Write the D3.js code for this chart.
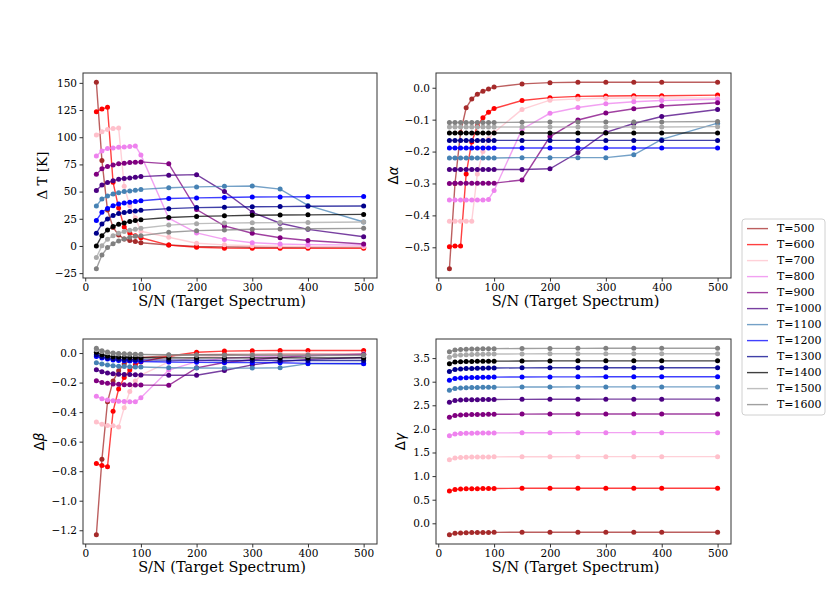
<!DOCTYPE html>
<html>
<head>
<meta charset="utf-8">
<script src="https://cdn.jsdelivr.net/npm/d3@7"></script>
<style>
  html, body { margin: 0; padding: 0; background: #fff; }
  svg { display: block; }
  text { font-family: "DejaVu Serif", serif; fill: #000; }
</style>
</head>
<body>
<svg id="chart" width="830" height="612"></svg>
<script>
// ---------- data ----------
const snr = [20, 30, 40, 50, 60, 70, 80, 90, 100, 150, 200, 250, 300, 350, 400, 500];
const temps = [500, 600, 700, 800, 900, 1000, 1100, 1200, 1300, 1400, 1500, 1600];
const xTicks = [0, 100, 200, 300, 400, 500];

const deltaT = [
  [150.5, 78.5, 33, 17, 10, 6.5, 5, 4, 3, 0.9, -0.5, -1, -1.2, -1.3, -1.3, -1.3],
  [123.5, 126, 127.5, 58.5, 35, 17.5, 12, 9.5, 7.5, 0.8, -1.2, -2, -2.2, -2.2, -2.2, -2.2],
  [102, 105, 107.2, 108, 108.5, 55, 37, 26, 13.5, 8, 2.5, 1, 0.2, -0.3, -0.5, -0.8],
  [82.8, 87.4, 89.6, 90.2, 90.8, 91.1, 91.4, 92, 83.7, 25.5, 12, 6, 3, 1.8, 1.2, 0.8],
  [66, 70.9, 73, 74.5, 75.5, 76, 76.7, 77, 77.3, 75.5, 33.5, 18.4, 11.7, 7.5, 5, 1.8],
  [51, 56, 58.3, 60, 61.3, 62, 62.6, 63.2, 63.8, 65, 65.6, 50, 31, 20.9, 15.3, 8.5],
  [36.8, 43.3, 46, 47.9, 49, 50, 50.6, 51.2, 52, 53.5, 54.3, 54.8, 55.1, 52.3, 37.3, 22],
  [23.5, 31, 34.5, 37, 38.5, 39.5, 40.3, 41, 41.6, 43.6, 44.2, 44.6, 45, 45.1, 45.3, 45.4],
  [11.7, 20.3, 24.9, 28, 29.8, 30.7, 31.6, 32.2, 32.9, 34.3, 35.3, 35.6, 36, 36.2, 36.5, 36.8],
  [0, 9.5, 14.7, 17.8, 20, 21.2, 22.4, 23.3, 24.2, 26.2, 27.2, 27.7, 28.2, 28.5, 28.6, 29],
  [-10.7, 0.3, 6.1, 9.5, 11.7, 13.2, 14.4, 15.4, 16.3, 19.2, 20.5, 21, 21.3, 21.5, 21.6, 22],
  [-20.9, -8.3, -1.5, 2.1, 4.6, 6.4, 8, 8.9, 9.5, 12.6, 14.1, 14.7, 15.3, 15.6, 15.8, 16.2]
];

const deltaAlpha = [
  [-0.567, -0.3, -0.14, -0.063, -0.035, -0.02, -0.011, -0.004, 0.002, 0.012, 0.016, 0.017, 0.017, 0.017, 0.017, 0.017],
  [-0.498, -0.496, -0.496, -0.27, -0.17, -0.12, -0.094, -0.077, -0.065, -0.04, -0.031, -0.027, -0.026, -0.025, -0.025, -0.023],
  [-0.418, -0.418, -0.418, -0.418, -0.418, -0.27, -0.2, -0.16, -0.14, -0.068, -0.039, -0.035, -0.033, -0.032, -0.032, -0.032],
  [-0.352, -0.352, -0.352, -0.352, -0.352, -0.352, -0.352, -0.35, -0.322, -0.13, -0.08, -0.062, -0.05, -0.044, -0.04, -0.036],
  [-0.3, -0.299, -0.299, -0.299, -0.299, -0.299, -0.299, -0.299, -0.299, -0.289, -0.153, -0.101, -0.079, -0.066, -0.057, -0.047],
  [-0.256, -0.256, -0.256, -0.256, -0.256, -0.256, -0.256, -0.256, -0.256, -0.256, -0.254, -0.203, -0.14, -0.112, -0.09, -0.068],
  [-0.22, -0.22, -0.22, -0.22, -0.22, -0.22, -0.22, -0.22, -0.22, -0.219, -0.219, -0.219, -0.219, -0.21, -0.162, -0.111],
  [-0.189, -0.189, -0.189, -0.189, -0.189, -0.189, -0.189, -0.189, -0.189, -0.189, -0.189, -0.189, -0.189, -0.189, -0.189, -0.189],
  [-0.165, -0.165, -0.165, -0.165, -0.165, -0.165, -0.165, -0.165, -0.165, -0.165, -0.165, -0.165, -0.165, -0.165, -0.165, -0.165],
  [-0.142, -0.142, -0.142, -0.142, -0.142, -0.142, -0.142, -0.142, -0.142, -0.142, -0.142, -0.142, -0.142, -0.142, -0.142, -0.142],
  [-0.123, -0.123, -0.123, -0.123, -0.123, -0.123, -0.123, -0.123, -0.123, -0.123, -0.123, -0.123, -0.123, -0.123, -0.123, -0.122],
  [-0.109, -0.109, -0.109, -0.109, -0.109, -0.109, -0.109, -0.109, -0.109, -0.108, -0.107, -0.107, -0.107, -0.107, -0.107, -0.106]
];

const deltaBeta = [
  [-1.23, -0.72, -0.33, -0.19, -0.12, -0.075, -0.05, -0.038, -0.03, -0.018, -0.012, -0.01, -0.009, -0.008, -0.008, -0.008],
  [-0.748, -0.762, -0.77, -0.395, -0.244, -0.165, -0.115, -0.08, -0.06, -0.022, 0.005, 0.013, 0.016, 0.017, 0.017, 0.017],
  [-0.467, -0.483, -0.49, -0.493, -0.5, -0.37, -0.26, -0.19, -0.15, -0.06, -0.03, -0.018, -0.012, -0.009, -0.007, -0.005],
  [-0.293, -0.31, -0.318, -0.323, -0.326, -0.328, -0.329, -0.33, -0.303, -0.115, -0.058, -0.036, -0.025, -0.02, -0.016, -0.011],
  [-0.187, -0.199, -0.205, -0.209, -0.212, -0.214, -0.215, -0.217, -0.217, -0.218, -0.1, -0.064, -0.045, -0.03, -0.018, -0.008],
  [-0.113, -0.126, -0.135, -0.14, -0.143, -0.145, -0.146, -0.147, -0.148, -0.15, -0.15, -0.118, -0.08, -0.058, -0.043, -0.03],
  [-0.065, -0.074, -0.081, -0.086, -0.089, -0.091, -0.093, -0.094, -0.095, -0.1, -0.101, -0.102, -0.102, -0.1, -0.072, -0.071],
  [-0.023, -0.034, -0.041, -0.047, -0.05, -0.052, -0.054, -0.056, -0.057, -0.061, -0.063, -0.064, -0.065, -0.066, -0.07, -0.072],
  [-0.011, -0.025, -0.033, -0.038, -0.041, -0.043, -0.044, -0.045, -0.046, -0.048, -0.049, -0.05, -0.05, -0.05, -0.05, -0.05],
  [0.005, -0.011, -0.02, -0.025, -0.027, -0.029, -0.03, -0.031, -0.032, -0.033, -0.033, -0.033, -0.033, -0.033, -0.033, -0.033],
  [0.022, 0.01, 0.002, -0.003, -0.006, -0.008, -0.009, -0.01, -0.011, -0.013, -0.015, -0.016, -0.016, -0.017, -0.017, -0.017],
  [0.032, 0.016, 0.007, 0.0, -0.003, -0.005, -0.007, -0.008, -0.009, -0.011, -0.012, -0.013, -0.013, -0.014, -0.014, -0.014]
];

const deltaGamma = [
  [-0.241, -0.213, -0.205, -0.2, -0.197, -0.195, -0.194, -0.193, -0.192, -0.19, -0.19, -0.19, -0.19, -0.19, -0.19, -0.19],
  [0.687, 0.716, 0.725, 0.73, 0.732, 0.734, 0.735, 0.736, 0.737, 0.742, 0.743, 0.744, 0.744, 0.744, 0.744, 0.744],
  [1.347, 1.382, 1.393, 1.4, 1.403, 1.405, 1.406, 1.407, 1.408, 1.41, 1.411, 1.412, 1.412, 1.412, 1.412, 1.412],
  [1.857, 1.892, 1.902, 1.907, 1.91, 1.912, 1.913, 1.914, 1.915, 1.918, 1.919, 1.92, 1.92, 1.92, 1.92, 1.92],
  [2.247, 2.282, 2.293, 2.3, 2.303, 2.305, 2.307, 2.308, 2.309, 2.313, 2.315, 2.316, 2.317, 2.317, 2.317, 2.317],
  [2.566, 2.6, 2.61, 2.615, 2.618, 2.62, 2.621, 2.622, 2.623, 2.626, 2.628, 2.629, 2.63, 2.63, 2.63, 2.63],
  [2.82, 2.856, 2.866, 2.872, 2.876, 2.878, 2.88, 2.882, 2.884, 2.887, 2.889, 2.89, 2.89, 2.89, 2.89, 2.89],
  [3.033, 3.069, 3.08, 3.086, 3.089, 3.091, 3.093, 3.095, 3.097, 3.1, 3.102, 3.103, 3.104, 3.104, 3.104, 3.104],
  [3.218, 3.26, 3.271, 3.277, 3.281, 3.284, 3.286, 3.288, 3.29, 3.293, 3.295, 3.296, 3.296, 3.296, 3.296, 3.296],
  [3.38, 3.416, 3.424, 3.428, 3.43, 3.432, 3.433, 3.434, 3.435, 3.438, 3.44, 3.441, 3.442, 3.442, 3.442, 3.442],
  [3.52, 3.555, 3.567, 3.573, 3.577, 3.58, 3.582, 3.584, 3.586, 3.589, 3.591, 3.592, 3.593, 3.593, 3.593, 3.593],
  [3.636, 3.67, 3.682, 3.688, 3.692, 3.695, 3.697, 3.698, 3.7, 3.703, 3.705, 3.706, 3.707, 3.707, 3.707, 3.707]
];

const yTicksT = [-25, 0, 25, 50, 75, 100, 125, 150];
const yTicksAlpha = [-0.5, -0.4, -0.3, -0.2, -0.1, 0.0];
const yTicksBeta = [-1.2, -1.0, -0.8, -0.6, -0.4, -0.2, 0.0];
const yTicksGamma = [0.0, 0.5, 1.0, 1.5, 2.0, 2.5, 3.0, 3.5];

// ---------- styles ----------
const colors = ["#a52a2a", "#ff0000", "#ffc0cb", "#ee82ee", "#800080", "#4b0082",
                "#4682b4", "#0000ff", "#00008b", "#000000", "#a9a9a9", "#808080"];

const svg = d3.select("#chart");
svg.append("rect").attr("width", 830).attr("height", 612).attr("fill", "#fff");

const panels = [
  { data: deltaT, ticks: yTicksT, fmt: d3.format("d"), box: [83, 377, 73, 278], ylab: "T", ylabX: 47 },
  { data: deltaAlpha, ticks: yTicksAlpha, fmt: d3.format(".1f"), box: [436, 731, 73, 278], ylab: "α", ylabX: 398 },
  { data: deltaBeta, ticks: yTicksBeta, fmt: d3.format(".1f"), box: [83, 377, 339, 544], ylab: "β", ylabX: 44 },
  { data: deltaGamma, ticks: yTicksGamma, fmt: d3.format(".1f"), box: [436, 731, 339, 544], ylab: "γ", ylabX: 405 }
];

const xExt = d3.extent(snr);
const xPad = (xExt[1] - xExt[0]) * 0.05;

panels.forEach(p => {
  const [x0, x1, y0, y1] = p.box;
  const flat = p.data.flat();
  const yExt = d3.extent(flat);
  const yPad = (yExt[1] - yExt[0]) * 0.05;
  const x = d3.scaleLinear().domain([xExt[0] - xPad, xExt[1] + xPad]).range([x0, x1]);
  const y = d3.scaleLinear().domain([yExt[0] - yPad, yExt[1] + yPad]).range([y1, y0]);

  const g = svg.append("g");

  // series
  const line = d3.line().x((d, i) => x(snr[i])).y(d => y(d));
  p.data.forEach((series, si) => {
    const sg = g.append("g");
    sg.append("path")
      .attr("d", line(series))
      .attr("fill", "none")
      .attr("stroke", colors[si])
      .attr("stroke-width", 1.4)
      .attr("stroke-opacity", 0.75);
    sg.selectAll("circle").data(series).join("circle")
      .attr("cx", (d, i) => x(snr[i]))
      .attr("cy", d => y(d))
      .attr("r", 2.5)
      .attr("fill", colors[si]);
  });

  // frame
  g.append("rect")
    .attr("x", x0).attr("y", y0)
    .attr("width", x1 - x0).attr("height", y1 - y0)
    .attr("fill", "none").attr("stroke", "#333").attr("stroke-width", 1);

  // axes
  const xa = g.append("g").attr("transform", `translate(0,${y1})`)
    .call(d3.axisBottom(x).tickValues(xTicks).tickSize(3.5).tickPadding(2).tickFormat(d3.format("d")));
  const ya = g.append("g").attr("transform", `translate(${x0},0)`)
    .call(d3.axisLeft(y).tickValues(p.ticks).tickSize(3.5).tickPadding(2.5).tickFormat(p.fmt));
  [xa, ya].forEach(a => {
    a.select(".domain").remove();
    a.selectAll(".tick line").attr("stroke", "#333");
    a.selectAll(".tick text").attr("font-family", "DejaVu Serif").attr("font-size", 10.5).attr("fill", "#000");
  });

  // x label
  g.append("text")
    .attr("x", (x0 + x1) / 2 - 8).attr("y", y1 + 28)
    .attr("text-anchor", "middle")
    .attr("font-size", 14.5)
    .text("S/N (Target Spectrum)");

  // y label
  const yl = g.append("text")
    .attr("transform", `translate(${p.ylabX},${(y0 + y1) / 2}) rotate(-90)`)
    .attr("text-anchor", "middle")
    .attr("font-size", 13.5);
  if (p.ylab === "T") {
    yl.text("Δ T [K]");
  } else {
    yl.append("tspan").attr("font-family", "DejaVu Sans").text("Δ");
    yl.append("tspan").attr("font-family", "DejaVu Sans").attr("font-style", "italic").text(p.ylab);
  }
});

// legend
const lg = svg.append("g");
const lgX = 742, lgY = 219, lgW = 83, lgH = 196, rowH = 16;
lg.append("rect")
  .attr("x", lgX).attr("y", lgY).attr("width", lgW).attr("height", lgH)
  .attr("rx", 3).attr("fill", "#fff").attr("fill-opacity", 0.8)
  .attr("stroke", "#d0d0d0").attr("stroke-width", 1);
temps.forEach((t, i) => {
  const cy = lgY + 9.6 + i * rowH;
  lg.append("line")
    .attr("x1", lgX + 5).attr("x2", lgX + 26)
    .attr("y1", cy).attr("y2", cy)
    .attr("stroke", colors[i]).attr("stroke-width", 1.4).attr("stroke-opacity", 0.75);
  lg.append("text")
    .attr("x", lgX + 35).attr("y", cy + 3.8)
    .attr("font-size", 11)
    .text("T=" + t);
});
</script>
</body>
</html>
